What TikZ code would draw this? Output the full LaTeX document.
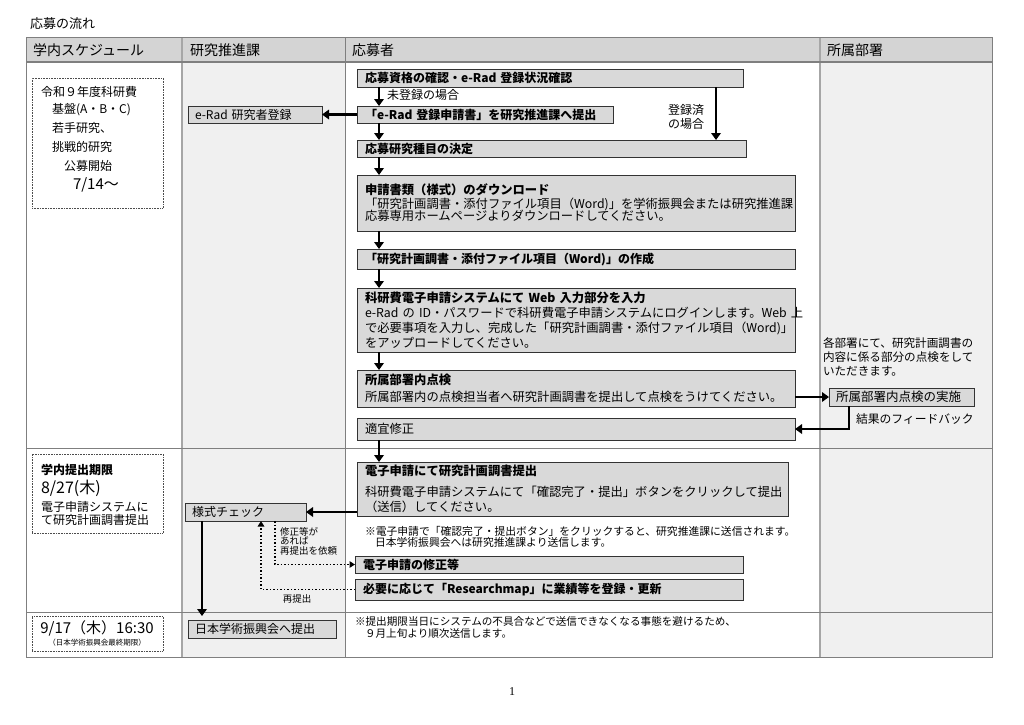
\documentclass[tikz,border=0pt]{standalone}
\usepackage{fontspec}
\setmainfont{Noto Sans CJK JP}
\newfontfamily\serifnum{Liberation Serif}
\usetikzlibrary{arrows.meta}
\definecolor{boxfill}{HTML}{D9D9D9}
\definecolor{hdrfill}{HTML}{D4D4D4}
\definecolor{colfill}{HTML}{F0F0F0}
\definecolor{gridc}{HTML}{7F7F7F}
\definecolor{gridl}{HTML}{A6A6A6}
\definecolor{boxline}{HTML}{333333}
\newcommand\ffs[2]{\fontsize{#1}{#2}\selectfont}
\begin{document}
\begin{tikzpicture}[x=1pt,y=-1pt,
 box/.style={draw=boxline, fill=boxfill, line width=0.9pt, inner xsep=8pt, inner ysep=1pt, outer sep=0pt, anchor=north west, align=left, font=\ffs{12.3}{15}},
 sbox/.style={box, inner xsep=7pt, font=\ffs{12}{15}},
 plain/.style={inner sep=0pt, outer sep=0pt, anchor=west},
 arr/.style={line width=2.5pt, -{Triangle[length=7pt,width=9.5pt]}},
 dotarr/.style={line width=1.5pt, dotted, -{Triangle[length=5.5pt,width=6.5pt]}},
 sched/.style={draw=black!70, densely dotted, line width=0.6pt, anchor=north west, inner sep=0pt, outer sep=0pt},
]
\useasboundingbox (0,0) rectangle (1024,724);
\fill[white] (0,0) rectangle (1024,724);

% title
\node[plain, font=\ffs{13}{15}] (title) at (30,24) {応募の流れ};

% table
\fill[hdrfill] (26,37) rectangle (992,62);
\fill[colfill] (182,62) rectangle (345,657);
\fill[colfill] (820,62) rectangle (992,657);
\draw[gridl, line width=1.6pt] (182,37) -- (182,657);
\draw[gridl, line width=1.6pt] (820,37) -- (820,657);
\draw[gridc, line width=0.9pt] (345,37) -- (345,657);
\draw[gridc, line width=1.3pt] (26,62) -- (992,62);
\draw[gridc, line width=0.9pt] (26,448) -- (992,448);
\draw[gridc, line width=0.9pt] (26,612) -- (992,612);
\draw[gridc, line width=1pt] (26,37) rectangle (992,657);

% header
\node[plain, font=\ffs{14}{16}] (h1) at (33,50) {学内スケジュール};
\node[plain, font=\ffs{14}{16}] (h2) at (190,50) {研究推進課};
\node[plain, font=\ffs{14}{16}] (h3) at (352,50) {応募者};
\node[plain, font=\ffs{14}{16}] (h4) at (827,50) {所属部署};

% schedule column
\node[sched, minimum width=131pt, minimum height=130pt] (sch1) at (32,78) {};
\node[plain, font=\ffs{12}{14}] (s1a) at (41,92) {令和９年度科研費};
\node[plain, font=\ffs{12}{14}] (s1b) at (52,110) {基盤(A・B・C)};
\node[plain, font=\ffs{12}{14}] (s1c) at (52,128) {若手研究、};
\node[plain, font=\ffs{12}{14}] (s1d) at (52,147) {挑戦的研究};
\node[plain, font=\ffs{12}{14}] (s1e) at (64,166) {公募開始};
\node[plain, font=\ffs{15}{17}] (s1f) at (73,185) {7/14～};

\node[sched, minimum width=131pt, minimum height=79pt] (sch2) at (32,454) {};
\node[plain, font=\bfseries\ffs{12}{14}] (s2a) at (41,470) {学内提出期限};
\node[plain, font=\ffs{16}{18}] (s2b) at (41,488) {8/27(木)};
\node[plain, font=\ffs{12}{14}] (s2c) at (41,507) {電子申請システムに};
\node[plain, font=\ffs{12}{14}] (s2d) at (41,520) {て研究計画調書提出};

\node[sched, minimum width=131pt, minimum height=35pt] (sch3) at (32,616) {};
\node[font=\ffs{15}{17}, inner sep=0pt] (s3a) at (97,628) {9/17（木）16:30};
\node[font=\ffs{7.5}{9}, inner sep=0pt] (s3b) at (97,643) {（日本学術振興会最終期限）};

% applicant column
\node[box, font=\bfseries\ffs{12}{15}, minimum height=18pt, text width=370pt] (b1) at (357,69) {\mbox{応募資格の確認・e-Rad 登録状況確認}};
\node[box, font=\bfseries\ffs{12}{15}, minimum height=17pt, text width=240pt] (b2) at (357,106) {\mbox{「e-Rad 登録申請書」を研究推進課へ提出}};
\node[box, font=\bfseries\ffs{12}{15}, minimum height=17pt, text width=373pt] (b3) at (357,140) {応募研究種目の決定};
\node[box, minimum height=56pt, text width=422pt] (b4) at (357,175) {\textbf{申請書類（様式）のダウンロード}\\[-1pt]\mbox{「研究計画調書・添付ファイル項目（Word)」を学術振興会または研究推進課}\\[-3pt]応募専用ホームページよりダウンロードしてください。};
\node[box, font=\bfseries\ffs{12}{15}, minimum height=20pt, text width=422pt] (b5) at (357,249) {\mbox{「研究計画調書・添付ファイル項目（Word)」の作成}};
\node[box, minimum height=64pt, text width=422pt] (b6) at (357,288) {\textbf{\mbox{科研費電子申請システムにて Web 入力部分を入力}}\\[0.5pt]\mbox{e-Rad の ID・パスワードで科研費電子申請システムにログインします。Web 上}\\\mbox{で必要事項を入力し、完成した「研究計画調書・添付ファイル項目（Word)」}\\をアップロードしてください。};
\node[box, minimum height=37pt, text width=422pt] (b7) at (357,370) {\textbf{所属部署内点検}\\[2pt]所属部署内の点検担当者へ研究計画調書を提出して点検をうけてください。};
\node[box, minimum height=22pt, text width=422pt] (b8) at (357,418) {適宜修正};
\node[box, minimum height=54pt, text width=415pt] (b9) at (357,462) {\textbf{電子申請にて研究計画調書提出}\\[6pt]科研費電子申請システムにて「確認完了・提出」ボタンをクリックして提出\\（送信）してください。};
\node[plain, anchor=north west, align=left, font=\ffs{10.8}{11.5}] (note1) at (365,526) {※電子申請で「確認完了・提出ボタン」をクリックすると、研究推進課に送信されます。\\\hspace*{10pt}日本学術振興会へは研究推進課より送信します。};
\node[box, font=\bfseries\ffs{12}{15}, minimum height=17pt, text width=372pt] (b10) at (355,556) {電子申請の修正等};
\node[box, font=\bfseries\ffs{12}{15}, minimum height=21pt, text width=372pt] (b11) at (355,579) {\mbox{必要に応じて「Researchmap」に業績等を登録・更新}};
\node[plain, anchor=north west, align=left, font=\ffs{10.6}{11.5}] (note2) at (355,617) {※提出期限当日にシステムの不具合などで送信できなくなる事態を避けるため、\\\hspace*{10pt}９月上旬より順次送信します。};

% labels in applicant column
\node[plain, font=\ffs{12}{14}] (lbl1) at (387,95) {未登録の場合};
\node[font=\ffs{12}{13.5}, align=center, inner sep=0pt] (lbl2) at (686,117) {登録済\\の場合};

% research promotion column
\node[sbox, minimum height=17pt, text width=120pt] (erad) at (188,106) {\mbox{e-Rad 研究者登録}};
\node[sbox, minimum height=18pt, text width=107pt] (chk) at (185,503) {様式チェック};
\node[sbox, minimum height=18pt, text width=134pt] (jsps) at (188,620) {日本学術振興会へ提出};
\node[plain, anchor=north west, align=left, font=\ffs{9.5}{9.5}] (lbl3) at (280,527) {修正等が\\あれば\\再提出を依頼};
\node[font=\ffs{9.5}{10}, inner sep=0pt] (lbl4) at (297,599) {再提出};

% department column
\node[plain, anchor=north west, align=left, font=\ffs{11.6}{14}] (dtxt) at (823,338) {各部署にて、研究計画調書の\\内容に係る部分の点検をして\\いただきます。};
\node[sbox, font=\ffs{12.5}{15}, minimum height=18pt, text width=131pt] (c1) at (829,388) {所属部署内点検の実施};
\node[plain, font=\ffs{11.8}{14}] (lbl5) at (856,419) {結果のフィードバック};

% arrows
\draw[arr] ([xshift=22pt]b1.south west) -- ([xshift=22pt]b2.north west);
\draw[arr] ([xshift=22pt]b2.south west) -- ([xshift=22pt]b3.north west);
\draw[arr] ([xshift=-27pt]b1.south east) -- ([xshift=-27pt]b1.south east |- b3.north);
\draw[arr] (b2.west) -- (erad.east);
\draw[arr] ([xshift=22pt]b3.south west) -- ([xshift=22pt]b4.north west);
\draw[arr] ([xshift=22pt]b4.south west) -- ([xshift=22pt]b5.north west);
\draw[arr] ([xshift=22pt]b5.south west) -- ([xshift=22pt]b6.north west);
\draw[arr] ([xshift=22pt]b6.south west) -- ([xshift=22pt]b7.north west);
\draw[arr] (c1.west -| b7.east) -- (c1.west);
\draw[arr] ([xshift=20pt]c1.south west) |- (b8.east);
\draw[arr] ([xshift=22pt]b8.south west) -- ([xshift=22pt]b9.north west);
\draw[arr] (chk.east -| b9.west) -- (chk.east);
\draw[arr, shorten >=4pt] ([xshift=17pt]chk.south west) -- ([xshift=17pt]chk.south west |- jsps.north);
\draw[dotarr] ([xshift=90pt]chk.south west) |- (b10.west);
\draw[dotarr] (b11.west) -| ([xshift=76pt]chk.south west);

% page number
\node[font=\serifnum\ffs{12}{14}, inner sep=0pt] (pnum) at (512,692) {1};
\end{tikzpicture}
\end{document}
